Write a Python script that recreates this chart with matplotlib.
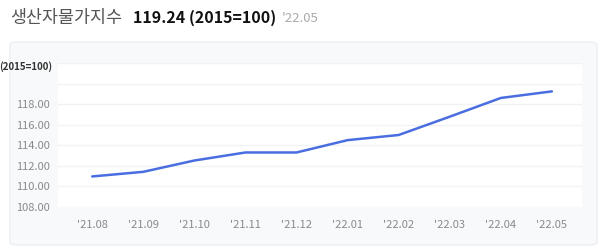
import matplotlib.pyplot as plt
from matplotlib.patches import FancyBboxPatch

plt.rcParams['font.family'] = ['Noto Sans CJK KR', 'DejaVu Sans']

MONTHS = ["'21.08", "'21.09", "'21.10", "'21.11", "'21.12",
          "'22.01", "'22.02", "'22.03", "'22.04", "'22.05"]
PPI = [110.97, 111.42, 112.52, 113.30, 113.30,
       114.50, 115.00, 116.78, 118.60, 119.24]
Y_TICKS = [108, 110, 112, 114, 116, 118, 120, 122]
Y_LABELS = ["108.00", "110.00", "112.00", "114.00", "116.00", "118.00", "", ""]

fig = plt.figure(figsize=(6, 2.48), dpi=100)
fig.patch.set_facecolor('white')

# light grey card behind the chart
card = FancyBboxPatch((10 / 600, 3 / 248), 587 / 600, 203 / 248,
                      boxstyle="round,pad=0,rounding_size=0.012",
                      transform=fig.transFigure, facecolor='#f8f9fb',
                      edgecolor='#eceef1', linewidth=1, zorder=-5)
fig.patches.append(card)

# title line
fig.text(10 / 600, 1 - 18 / 248, "생산자물가지수", fontsize=12.5, color='#555555',
         va='center', ha='left')
fig.text(133 / 600, 1 - 18 / 248, "119.24 (2015=100)", fontsize=11.5, color='#111111',
         fontweight='bold', va='center', ha='left')
fig.text(282 / 600, 1 - 18 / 248, "'22.05", fontsize=9.5, color='#aaaaaa',
         va='center', ha='left')

ax = fig.add_axes([58 / 600, 1 - 207 / 248, 524 / 600, 144 / 248])
ax.set_zorder(1)
ax.set_facecolor('white')
ax.plot(range(len(MONTHS)), PPI, color='#4a6ee0', linewidth=1.8,
        solid_capstyle='round', zorder=3)

ax.set_xlim(-0.67, 9.59)
ax.set_ylim(108, 122)
ax.set_xticks(range(len(MONTHS)))
ax.set_xticklabels(MONTHS)
ax.set_yticks(Y_TICKS)
ax.set_yticklabels(Y_LABELS)
ax.tick_params(axis='both', length=0, labelsize=8, labelcolor='#8a8a8a')
ax.tick_params(axis='x', pad=9)
ax.tick_params(axis='y', pad=6)
ax.grid(axis='y', color='#f1f2f4', linewidth=1)
for s in ax.spines.values():
    s.set_visible(False)

# unit label at the top of the y axis
fig.text(52 / 600, 1 - 67 / 248, "(2015=100)", fontsize=7, color='#333333',
         fontweight='bold', ha='right', va='center')

fig.savefig("out.png", dpi=100)
